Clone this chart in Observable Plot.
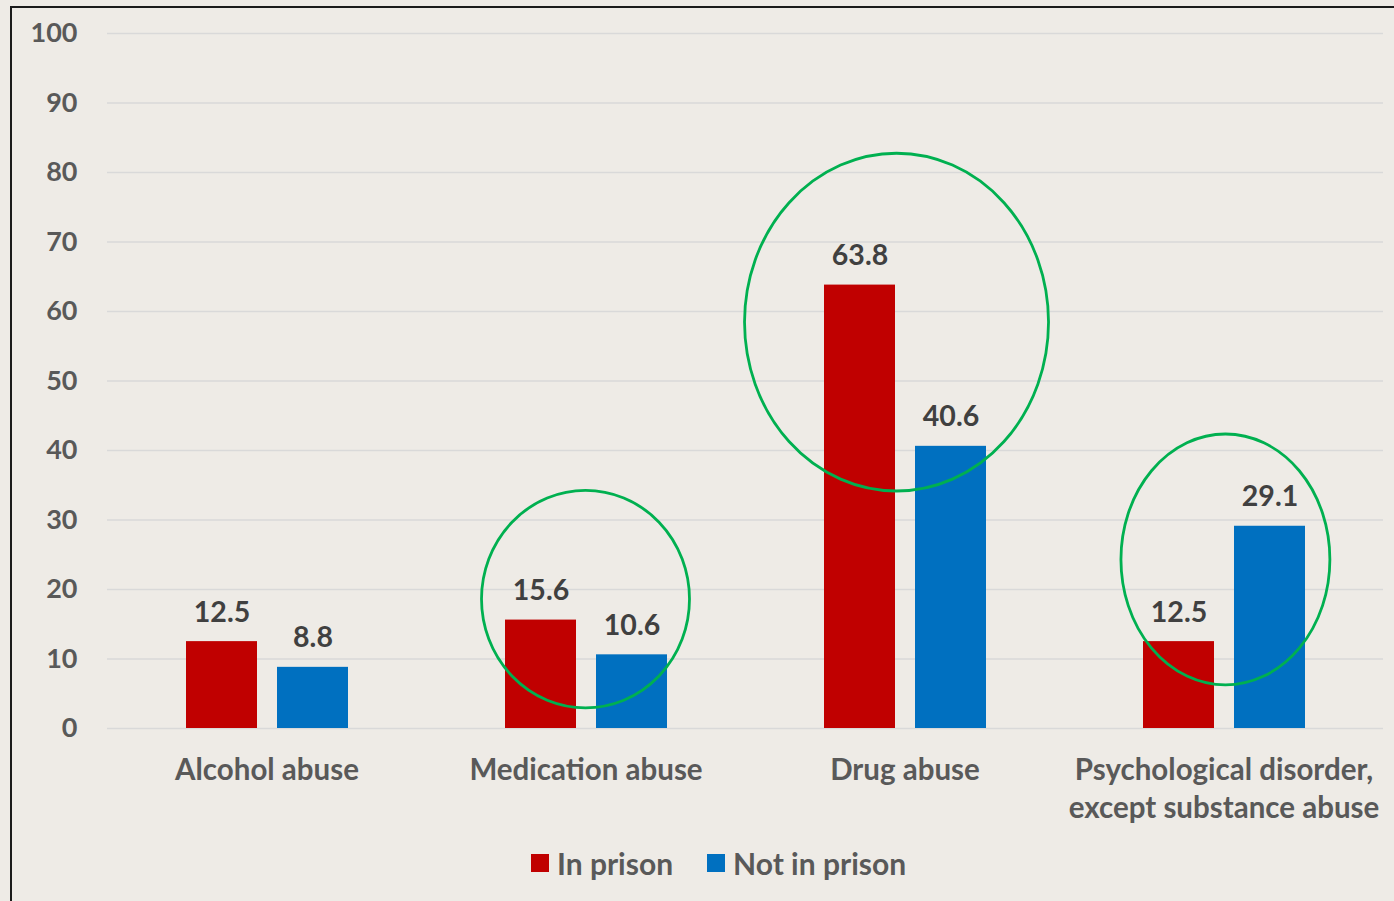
<!DOCTYPE html>
<html><head><meta charset="utf-8">
<script src="https://cdn.jsdelivr.net/npm/d3@7"></script>
<script src="https://cdn.jsdelivr.net/npm/@observablehq/plot@0.6"></script>
<style>
html,body{margin:0;padding:0;}
body{background:#EEEBE6;width:1394px;height:901px;overflow:hidden;position:relative;font-family:Lato,"Open Sans",sans-serif;}
#frame{position:absolute;left:10px;top:6px;width:1500px;height:1000px;border-left:2px solid #1b1b1b;border-top:2px solid #1b1b1b;}
#chart{position:absolute;left:0;top:0;}
#legend{position:absolute;top:845px;left:531px;display:flex;align-items:center;font-weight:700;font-size:30px;color:#595959;}
.item{display:flex;align-items:center;margin-right:34px;}
.sw{width:18px;height:18px;margin-right:8px;}
</style>
</head><body>
<div id="frame"></div>
<div id="chart"></div>
<div id="legend"></div>
<script>
const categories = ["Alcohol abuse","Medication abuse","Drug abuse","Psychological disorder, except substance abuse"];
const categoryLabels = ["Alcohol abuse","Medication abuse","Drug abuse","Psychological disorder,\nexcept substance abuse"];
const series = ["In prison","Not in prison"];
const inPrison = [12.5, 15.6, 63.8, 12.5];
const notInPrison = [8.8, 10.6, 40.6, 29.1];
const colors = ["#C00000","#0070C0"];
const yTicks = [0,10,20,30,40,50,60,70,80,90,100];

// highlight annotations (green ellipses): category, top and bottom value
const highlightCats = ["Medication abuse","Drug abuse","Psychological disorder, except substance abuse"];
const highlightTop = [34.2, 82.7, 42.3];
const highlightBottom = [2.9, 34.1, 6.2];

const data = [];
categories.forEach((c,i)=>{
  data.push({category:c, series:series[0], value:inPrison[i]});
  data.push({category:c, series:series[1], value:notInPrison[i]});
});
const labelOf = new Map(categories.map((c,i)=>[c,categoryLabels[i]]));

const plot = Plot.plot({
  width:1394, height:830,
  marginLeft:106, marginRight:11, marginTop:33, marginBottom:102,
  style:{background:"transparent", fontFamily:"Lato, 'Open Sans', sans-serif"},
  fx:{domain:categories, padding:0, label:null, axis:null},
  x:{domain:series, paddingInner:0.22, paddingOuter:0.862, axis:null},
  y:{domain:[0,100], label:null},
  color:{domain:series, range:colors},
  marks:[
    Plot.gridY(yTicks, {stroke:"#d9d9d9", strokeOpacity:1, strokeWidth:1.6}),
    Plot.axisY(yTicks, {tickSize:0, tickPadding:30, fontSize:27, fontWeight:700, fill:"#595959", label:null}),
    Plot.axisFx({anchor:"bottom", tickSize:0, tickPadding:24, fontSize:29.5, fontWeight:700, fill:"#595959", lineHeight:1.29, label:null, tickFormat:d=>labelOf.get(d)}),
    Plot.barY(data, {fx:"category", x:"series", y:"value", fill:"series"}),
    Plot.text(data, {fx:"category", x:"series", y:"value", text:d=>d.value.toFixed(1), dy:-29, fontSize:28.5, fontWeight:700, fill:"#404040"})
  ]
});
document.getElementById("chart").append(plot);

// green ellipses drawn with the plot's own scales
const fx = plot.scale("fx"), ys = plot.scale("y");
const bw = fx.bandwidth;
const spans = [0.652, 0.953, 0.655];
const shifts = [0, -0.025, 0.006];
const svg = d3.select(plot);
const g = svg.append("g");
highlightCats.forEach((c,i)=>{
  const x0 = fx.apply(c);
  const cx = x0 + bw*(0.5 + shifts[i]);
  const yt = ys.apply(highlightTop[i]), yb = ys.apply(highlightBottom[i]);
  g.append("ellipse").attr("cx",cx).attr("cy",(yt+yb)/2)
    .attr("rx",bw*spans[i]/2).attr("ry",(yb-yt)/2)
    .attr("fill","none").attr("stroke","#00B050").attr("stroke-width",2.8);
});

const legend = document.getElementById("legend");
series.forEach((s,i)=>{
  const it = document.createElement("div"); it.className="item";
  const sw = document.createElement("div"); sw.className="sw"; sw.style.background=colors[i];
  const tx = document.createElement("span"); tx.textContent=s;
  it.append(sw,tx); legend.append(it);
});
</script>
</body></html>
